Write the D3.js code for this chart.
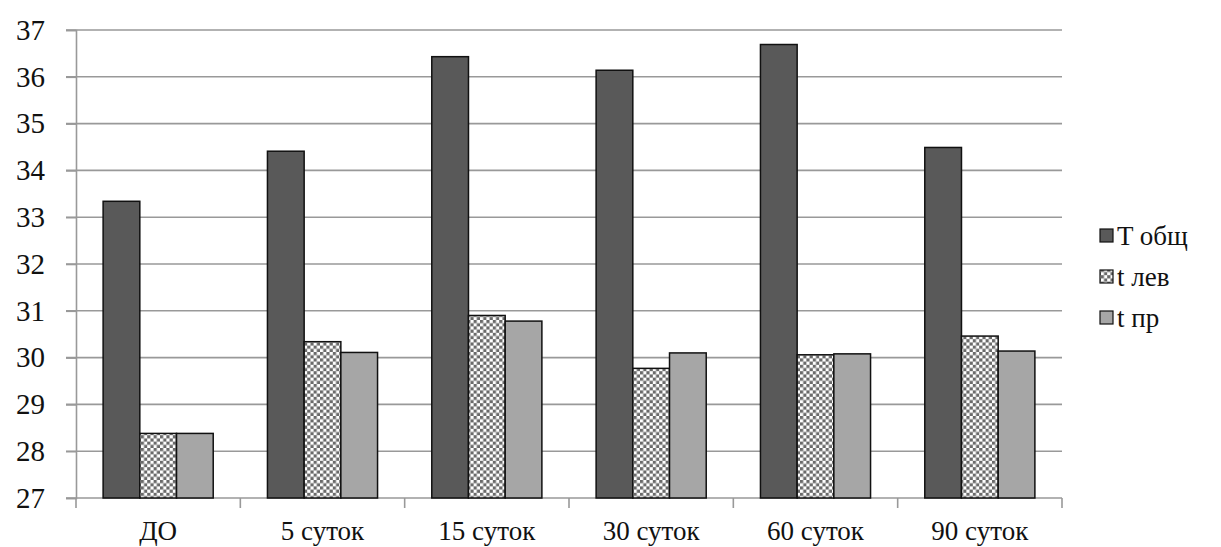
<!DOCTYPE html>
<html><head><meta charset="utf-8">
<script src="https://cdn.jsdelivr.net/npm/d3@7/dist/d3.min.js"></script>
</head><body style="margin:0">
<svg id="chart" width="1221" height="547"></svg>
<script>
const categories = ["ДО","5 суток","15 суток","30 суток","60 суток","90 суток"];
const seriesNames = ["T общ","t лев","t пр"];
const tObsh = [33.34, 34.41, 36.43, 36.14, 36.69, 34.49];
const tLev  = [28.38, 30.34, 30.9, 29.77, 30.06, 30.46];
const tPr   = [28.38, 30.11, 30.78, 30.1, 30.08, 30.14];
const yTicks = [27,28,29,30,31,32,33,34,35,36,37];

const series = [tObsh, tLev, tPr];
const svg = d3.select("#chart");
const fontOf = () => '"Liberation Serif"';

const defs = svg.append("defs");
const pat = defs.append("pattern").attr("id","checker").attr("patternUnits","userSpaceOnUse")
  .attr("width",6.4).attr("height",6.4);
pat.append("rect").attr("width",6.4).attr("height",6.4).attr("fill","#fff");
pat.append("rect").attr("x",0).attr("y",0).attr("width",3.2).attr("height",3.2).attr("fill","#6a6a6a");
pat.append("rect").attr("x",3.2).attr("y",3.2).attr("width",3.2).attr("height",3.2).attr("fill","#6a6a6a");

const fills = ["#595959","url(#checker)","#a6a6a6"];

const mLeft = 76, mRight = 1062, mTop = 30, mBottom = 498;
const x = d3.scaleBand().domain(categories).range([mLeft,mRight]).paddingInner(0.33).paddingOuter(0.165);
const xs = d3.scaleBand().domain(d3.range(3)).range([0,x.bandwidth()]);
const y = d3.scaleLinear().domain([27,37]).range([mBottom,mTop]);

// gridlines
svg.append("g").selectAll("line").data(yTicks.slice(1)).join("line")
  .attr("x1",mLeft-10).attr("x2",mRight).attr("y1",d=>y(d)).attr("y2",d=>y(d))
  .attr("stroke","#999").attr("stroke-width",1.6);

// y axis ticks/domain
const yAxis = d3.axisLeft(y).tickValues(yTicks).tickSize(10).tickFormat("");
const gy = svg.append("g").attr("transform",`translate(${mLeft},0)`).call(yAxis);
gy.select(".domain").attr("stroke","#999").attr("stroke-width",1.6);
gy.selectAll(".tick line").attr("stroke","#999").attr("stroke-width",1.6);

// x axis
const xEdge = d3.scaleLinear().domain([0,categories.length]).range([mLeft,mRight]);
const gx = svg.append("g").attr("transform",`translate(0,${mBottom})`);
gx.append("line").attr("x1",mLeft-10).attr("x2",mRight).attr("stroke","#999").attr("stroke-width",1.6);
gx.selectAll("line.t").data(d3.range(categories.length+1)).join("line").attr("class","t")
  .attr("x1",d=>xEdge(d)).attr("x2",d=>xEdge(d)).attr("y1",0).attr("y2",10)
  .attr("stroke","#999").attr("stroke-width",1.6);

// bars
series.forEach((vals,si)=>{
  svg.append("g").selectAll("rect").data(vals).join("rect")
    .attr("x",(d,i)=>x(categories[i])+xs(si)).attr("width",xs.bandwidth())
    .attr("y",d=>y(d)).attr("height",d=>y(27)-y(d))
    .attr("fill",fills[si]).attr("stroke","#111").attr("stroke-width",1.5);
});

// legend swatches
seriesNames.forEach((n,i)=>{
  svg.append("rect").attr("x",1100).attr("y",229+i*41).attr("width",13).attr("height",13)
    .attr("fill",fills[i]).attr("stroke","#111").attr("stroke-width",1.2);
});

// all texts, appended directly to svg like a plain list
const labels = [];
yTicks.forEach(d=>labels.push({t:String(d), x:mLeft-31, y:y(d), a:"end", s:29}));
categories.forEach(d=>labels.push({t:d, x:x(d)+x.bandwidth()/2, y:mBottom+33, a:"middle", s:27}));
seriesNames.forEach((d,i)=>labels.push({t:d, x:1117, y:236+i*41, a:"start", s:27}));
svg.selectAll("text.lbl").data(labels).join("text").attr("class","lbl")
  .attr("x",d=>d.x).attr("y",d=>d.y).attr("dy","0.34em").attr("text-anchor",d=>d.a)
  .style("font-family",fontOf).attr("font-size",d=>d.s).attr("fill","#111").text(d=>d.t);
</script>
</body></html>
